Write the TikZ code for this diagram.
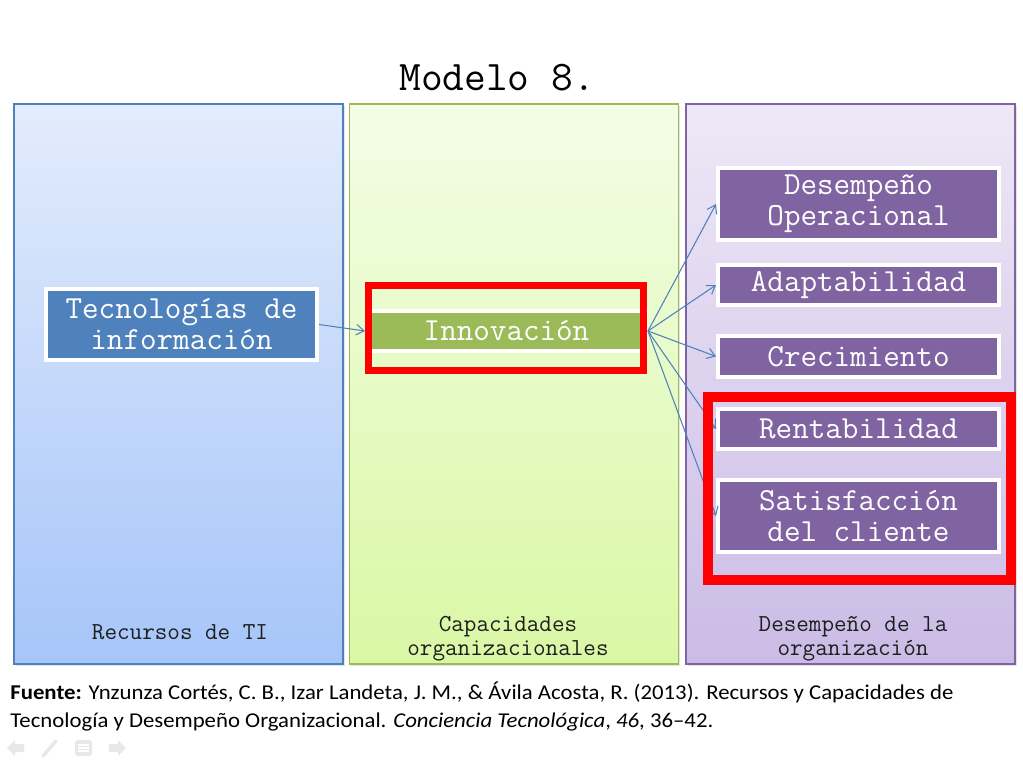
\documentclass[tikz,border=0pt]{standalone}
\usepackage{fontspec}
\setmainfont{Carlito}
\newfontfamily\citefont[FakeStretch=1.08]{Carlito}
\usetikzlibrary{arrows.meta,shadows}
\definecolor{tiblue}{HTML}{4F81BD}
\definecolor{capgreen}{HTML}{9BBB59}
\definecolor{despurple}{HTML}{8064A2}
\definecolor{titop}{HTML}{E3ECFC}
\definecolor{tibot}{HTML}{A6C5F9}
\definecolor{captop}{HTML}{F3FDE6}
\definecolor{capbot}{HTML}{D9F8A5}
\definecolor{destop}{HTML}{EEE8F6}
\definecolor{desbot}{HTML}{CBBBE6}
\definecolor{hlred}{HTML}{FF0000}
\definecolor{navgrey}{HTML}{E8E8E8}
\definecolor{labeltxt}{HTML}{1E1E1E}
\tikzset{
  panel/.style   = {draw,line width=0.8pt,minimum width=6.58cm,minimum height=11.2cm,
                    inner sep=0pt,drop shadow={opacity=0.2,shadow xshift=1pt,
                    shadow yshift=-1pt}},
  panellbl/.style= {font=\ttfamily\fontsize{13.9}{13.6}\selectfont,text=labeltxt,
                    align=center,inner sep=0pt},
  blk/.style     = {draw=white,line width=0.08cm,inner sep=0pt,align=center,
                    text=white,font=\ttfamily\fontsize{18.3}{17.6}\selectfont,
                    drop shadow={opacity=0.35,shadow xshift=0.8pt,shadow yshift=-0.8pt}},
  tecbox/.style  = {blk,fill=tiblue,minimum width=5.42cm,minimum height=1.42cm},
  innbox/.style  = {blk,fill=capgreen,minimum width=5.58cm,minimum height=0.8cm},
  desbox/.style  = {blk,fill=despurple,minimum width=5.62cm,minimum height=0.8cm},
  flecha/.style  = {draw=tiblue,line width=0.6pt,-{Straight Barb[length=4.5pt,width=6pt]}},
  hlframe/.style = {draw=hlred},
  cita/.style    = {anchor=base west,inner sep=0pt,font=\citefont\fontsize{12}{15.9}\selectfont},
}

\begin{document}
\begin{tikzpicture}[x=0.02cm,y=-0.02cm]
  \useasboundingbox[fill=white] (0,0) rectangle (1023,768);

  \node[font=\ttfamily\fontsize{24}{26}\selectfont] (titulo) at (497,78) {Modelo 8.};

  % columnas
  \node[panel,draw=tiblue,top color=titop,bottom color=tibot] (recursos) at (178.5,384) {};
  \node[panel,draw=capgreen,top color=captop,bottom color=capbot] (capacidades) at (514,384) {};
  \node[panel,draw=despurple,top color=destop,bottom color=desbot] (desempeno) at (850.5,384) {};

  \node[panellbl] (lblti)  at (180,632) {Recursos de TI};
  \node[panellbl] (lblcap) at (508,639) {Capacidades\\organizacionales};
  \node[panellbl] (lbldes) at (853,639) {Desempeño de la\\organización};

  % cajas
  \node[tecbox] (tec) at (181.5,324.5) {Tecnologías de\\información};
  \node[innbox] (inn) at (506.5,331) {Innovación};
  \node[desbox,minimum height=1.44cm] (desop) at (858.5,204) {Desempeño\\Operacional};
  \node[desbox] (adapt) at (858.5,285) {Adaptabilidad};
  \node[desbox,minimum height=0.82cm] (crec) at (858.5,356.5) {Crecimiento};
  \node[desbox] (rent) at (858.5,429) {Rentabilidad};
  \node[desbox,minimum height=1.44cm] (satis) at (858.5,516) {Satisfacción\\del cliente};

  \draw[flecha] (tec.east) -- (inn.west);
  \foreach \dst in {desop,adapt,crec,rent,satis}
    \draw[flecha] (inn.east) -- (\dst.west);

  % marcos rojos
  \draw[hlframe,line width=0.14cm] (368.5,285.5) rectangle (643.5,370.5);
  \draw[hlframe,line width=0.2cm] (708,397) rectangle (1011,580);

  % fuente
  \node[cita] (fuente1) at (10,699)
        {\textbf{Fuente:} Ynzunza Cortés, C. B., Izar Landeta, J. M., \& Ávila Acosta, R. (2013). Recursos y Capacidades de};
  \node[cita] (fuente2) at (10,727)
        {Tecnología y Desempeño Organizacional. \textit{Conciencia Tecnológica}, \textit{46}, 36–42.};

  % navegacion
  \fill[navgrey] (7,748) -- (15,740) -- (15,744) -- (24,744) -- (24,752) -- (15,752) -- (15,756) -- cycle;
  \draw[navgrey,line width=2pt,line cap=round] (43,756) -- (56,741);
  \fill[navgrey,rounded corners=1.5pt] (75,740) rectangle (92,756);
  \foreach \yy in {745,748,751}
    \draw[white,line width=0.6pt] (78,\yy) -- (89,\yy);
  \fill[navgrey] (126,748) -- (118,740) -- (118,744) -- (109,744) -- (109,752) -- (118,752) -- (118,756) -- cycle;
\end{tikzpicture}
\end{document}
